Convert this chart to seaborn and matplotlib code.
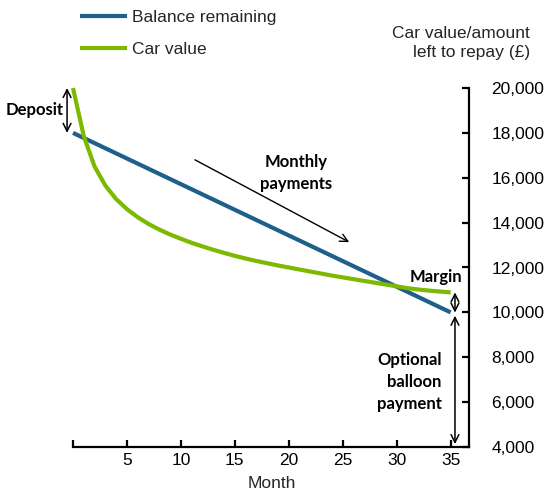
import matplotlib
matplotlib.use("Agg")
import matplotlib.pyplot as plt
import seaborn as sns
import pandas as pd

# ---- data ----
balance_months = [0, 35]
balance_values = [18000, 10000]

car_months = list(range(0, 36))
car_values = [20000, 17850, 16500, 15650, 15050, 14600, 14240, 13940, 13690, 13470,
              13280, 13100, 12940, 12790, 12650, 12520, 12400, 12290, 12190, 12090,
              12000, 11910, 11820, 11730, 11640, 11560, 11480, 11400, 11320, 11240,
              11160, 11080, 11020, 10970, 10930, 10890]

x_ticks = [0, 5, 10, 15, 20, 25, 30, 35]
x_ticklabels = ["", "5", "10", "15", "20", "25", "30", "35"]
y_ticks = [4000, 6000, 8000, 10000, 12000, 14000, 16000, 18000, 20000]

series_names = ["Balance remaining", "Car value"]
colors = {"Balance remaining": "#1f5f8b", "Car value": "#7cb900"}

df = pd.concat([
    pd.DataFrame({"Month": balance_months, "Value": balance_values, "Series": series_names[0]}),
    pd.DataFrame({"Month": car_months, "Value": car_values, "Series": series_names[1]}),
], ignore_index=True)

sns.set_style("white")
plt.rcParams["font.family"] = ["Liberation Sans", "DejaVu Sans"]

fig = plt.figure(figsize=(5.45, 4.94), dpi=100)
ax = fig.add_axes([73 / 545, 1 - 447 / 494, (469 - 73) / 545, (447 - 88) / 494])

sns.lineplot(data=df, x="Month", y="Value", hue="Series", hue_order=series_names,
             palette=colors, linewidth=3.0, ax=ax, sort=False, estimator=None)
for ln in ax.get_lines():
    ln.set_solid_capstyle("butt")
    ln.set_solid_joinstyle("round")
    ln.set_clip_on(False)

ax.set_xlim(0, 36.7)
ax.set_ylim(4000, 20000)

# spines
for s in ["left", "top"]:
    ax.spines[s].set_visible(False)
for s in ["right", "bottom"]:
    ax.spines[s].set_color("black")
    ax.spines[s].set_linewidth(1.6)

ax.yaxis.tick_right()
ax.yaxis.set_label_position("right")
ax.set_yticks(y_ticks)
ax.set_yticklabels([f"{v:,}" for v in y_ticks])
ax.set_xticks(x_ticks)
ax.set_xticklabels(x_ticklabels)
ax.tick_params(axis="y", direction="in", length=5, width=1.6, pad=16, labelsize=12.5, colors="black", right=True, left=False)
ax.tick_params(axis="x", direction="in", length=5, width=1.6, pad=4, labelsize=12.5, colors="black", bottom=True)
ax.set_ylabel("")
ax.set_xlabel("")
fig.text(272 / 545, 1 - 483 / 494, "Month", ha="center", va="center", fontsize=12.5)
fig.text(530 / 545, 1 - 43 / 494, "Car value/amount\nleft to repay (£)", ha="right", va="center",
         fontsize=12.5, linespacing=1.25)

# legend
handles, labels = ax.get_legend_handles_labels()
ax.legend(handles, labels, loc="upper left", bbox_to_anchor=(80 / 545, 1 - 10 / 494),
          bbox_transform=fig.transFigure, frameon=False, fontsize=12.5,
          handlelength=2.7, handletextpad=0.3, labelspacing=0.95, borderpad=0, borderaxespad=0)

# annotations
bold = dict(fontsize=12, fontweight="bold", family=["Lato", "DejaVu Sans"], color="black")
arrow2 = dict(arrowstyle="<->", color="black", lw=1.1, mutation_scale=14, shrinkA=0, shrinkB=0)
arrow1 = dict(arrowstyle="->", color="black", lw=1.0, mutation_scale=14, shrinkA=0, shrinkB=0)

# Deposit
ax.annotate("", xy=(-0.55, 20000), xytext=(-0.55, 18000), arrowprops=arrow2, annotation_clip=False)
fig.text(35 / 545, 1 - 110 / 494, "Deposit", ha="center", va="center", **bold)

# Monthly payments
ax.annotate("", xy=(25.6, 13130), xytext=(11.3, 16800), arrowprops=arrow1, annotation_clip=False)
ax.text(20.7, 16220, "Monthly\npayments", ha="center", va="center", linespacing=1.45, **bold)

# Margin
ax.annotate("", xy=(35.4, 10890), xytext=(35.4, 9990), arrowprops=arrow2, annotation_clip=False)
ax.text(33.6, 11580, "Margin", ha="center", va="center", **bold)

# Optional balloon payment
ax.annotate("", xy=(35.4, 9850), xytext=(35.4, 4130), arrowprops=arrow2, annotation_clip=False)
ax.text(34.15, 6900, "Optional\nballoon\npayment", ha="right", va="center", linespacing=1.45, **bold)

fig.savefig("out.png", dpi=100)
